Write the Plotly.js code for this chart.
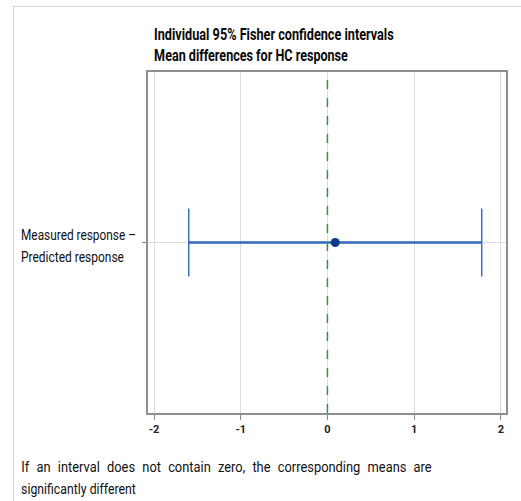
<!DOCTYPE html>
<html>
<head>
<meta charset="utf-8">
<script src="https://cdn.plot.ly/plotly-3.0.1.min.js"></script>
<style>
  html, body { margin: 0; padding: 0; background: #fff; }
  #frame { position: absolute; left: 13px; top: 6px; right: -2px; bottom: -2px;
           border-left: 1px solid #d4d4d4; border-top: 1px solid #d4d4d4; pointer-events: none; }
  #chart { width: 521px; height: 501px; }
</style>
</head>
<body>
<div id="chart"></div>
<div id="frame"></div>
<script>
// Fisher interval for the difference of means
const comparisons = ['Measured response \u2013<br>Predicted response'];
const meanDiff = [0.09];
const lowerCI = [-1.60];
const upperCI = [1.78];
const zeroLine = 0;
const xTicks = [-2, -1, 0, 1, 2];
const xTickText = ['-2', '-1', '0', '1', '2'];

const titleLines = ['Individual 95% Fisher confidence intervals', 'Mean differences for HC response'];
const footnoteLines = ['If an interval does not contain zero, the corresponding means are',
                       'significantly different'];

const blue = '#3b6fbe';
const catIdx = comparisons.map((_, i) => i);

// plot area geometry (px)
const PL = 148, PT = 72, PW = 358, PH = 341;

const traces = [];
// interval line
catIdx.forEach(i => {
  traces.push({
    type: 'scatter', mode: 'lines',
    x: [lowerCI[i], upperCI[i]], y: [i, i],
    line: { color: blue, width: 2.5 },
    hoverinfo: 'skip', showlegend: false
  });
});
// end caps and point estimate
traces.push({
  type: 'scatter', mode: 'markers',
  x: meanDiff, y: catIdx,
  marker: { color: '#0b3c8c', size: 9, symbol: 'circle' },
  error_x: {
    type: 'data', symmetric: false,
    array: meanDiff.map((m, i) => upperCI[i] - m),
    arrayminus: meanDiff.map((m, i) => m - lowerCI[i]),
    color: blue, thickness: 1.5, width: 34
  },
  showlegend: false
});

// annotations + the width each line of text is set to (condensed face)
const annotations = [];
const annFit = [];
const titleWidths = [240, 194];
const titleCenters = [34, 55];
titleLines.forEach((t, k) => {
  annotations.push({
    xref: 'paper', yref: 'paper', x: (152 - PL) / PW, y: 1 + (PT - titleCenters[k]) / PH,
    xanchor: 'left', yanchor: 'middle', showarrow: false,
    text: '<b>' + t + '</b>',
    font: { family: 'Roboto', size: 17, color: '#0a0a0a' }
  });
  annFit.push({ width: titleWidths[k] });
});
const labelWidths = [115, 103];
const labelShift = [8, -14];
comparisons.forEach((c, i) => {
  c.split('<br>').forEach((line, k) => {
    annotations.push({
      xref: 'paper', yref: 'y', x: (19 - PL) / PW, y: i, yshift: labelShift[k],
      xanchor: 'left', yanchor: 'middle', showarrow: false,
      text: line,
      font: { family: 'Roboto', size: 15, color: '#111' }
    });
    annFit.push({ width: labelWidths[k] });
  });
});
const footWidths = [411, 115];
const footCenters = [467, 489];
footnoteLines.forEach((t, k) => {
  annotations.push({
    xref: 'paper', yref: 'paper', x: (19 - PL) / PW, y: -(footCenters[k] - PT - PH) / PH,
    xanchor: 'left', yanchor: 'middle', showarrow: false,
    text: t,
    font: { family: 'Roboto', size: 15, color: '#111' }
  });
  annFit.push({ width: footWidths[k], justify: k === 0 });
});

const layout = {
  width: 521, height: 501,
  margin: { l: PL, r: 521 - PL - PW, t: PT, b: 501 - PT - PH },
  paper_bgcolor: 'rgba(0,0,0,0)', plot_bgcolor: '#fff',
  showlegend: false,
  xaxis: {
    range: [-2.07, 2.06],
    tickvals: xTicks, ticktext: xTickText,
    ticks: 'outside', ticklen: 5, tickcolor: '#888', tickwidth: 1,
    showgrid: true, gridcolor: '#dcdcdc', gridwidth: 1,
    zeroline: false,
    showline: true, linecolor: '#8f8f8f', linewidth: 2, mirror: true,
    tickfont: { family: 'Roboto', size: 11, color: '#222', weight: 'bold' }
  },
  yaxis: {
    range: [-1, 1],
    tickvals: catIdx, ticktext: catIdx.map(() => ''),
    ticks: 'outside', ticklen: 4, tickcolor: '#888',
    showgrid: true, gridcolor: '#dcdcdc',
    zeroline: false,
    showline: true, linecolor: '#8f8f8f', linewidth: 2, mirror: true
  },
  shapes: [{
    type: 'line', xref: 'x', yref: 'paper',
    x0: zeroLine, x1: zeroLine, y0: 0, y1: 1,
    line: { color: '#2e9a40', width: 1.5, dash: 'dash' }
  }],
  annotations: annotations
};

// squeeze each text line horizontally to the condensed width; justify the first footnote line
function condenseText(gd) {
  const texts = gd.querySelectorAll('.annotation-text');
  const condense = 0.86;
  texts.forEach((el, i) => {
    const fit = annFit[i];
    if (!fit) return;
    const left = el.getBBox().x;
    if (fit.justify) {
      const w0 = el.getBBox().width;
      const spaces = (el.textContent.match(/ /g) || []).length;
      if (spaces) el.style.wordSpacing = ((fit.width / condense - w0) / spaces) + 'px';
    }
    const bb = el.getBBox();
    const s = fit.width / bb.width;
    el.setAttribute('transform', `translate(${left},0) scale(${s},1) translate(${-bb.x},0)`);
  });
}

Plotly.newPlot('chart', traces, layout, { staticPlot: true, displayModeBar: false })
  .then(condenseText);
</script>
</body>
</html>
